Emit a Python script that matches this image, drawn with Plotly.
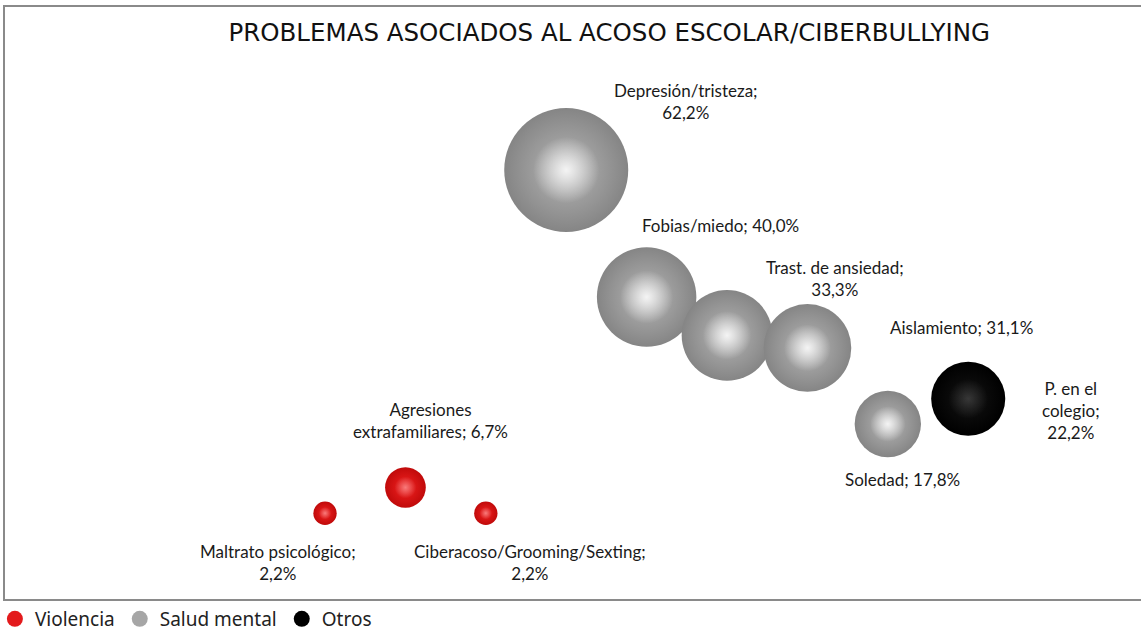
import plotly.graph_objects as go

# bubble data (x = order of appearance, y and size = % of cases)
names = ["Maltrato psicológico", "Agresiones<br>extrafamiliares", "Ciberacoso/Grooming/Sexting",
         "Depresión/tristeza", "Fobias/miedo", "Trast. de ansiedad", "Aislamiento",
         "Soledad", "P. en el<br>colegio"]
values = [2.2, 6.7, 2.2, 62.2, 40.0, 33.3, 31.1, 17.8, 22.2]
groups = ["Violencia", "Violencia", "Violencia", "Salud mental", "Salud mental",
          "Salud mental", "Salud mental", "Salud mental", "Otros"]
group_names = ["Violencia", "Salud mental", "Otros"]
x_pos = list(range(1, len(names) + 1))

# styling: (edge, body, highlight, legend colour)
colors = {"Violencia": ("#c00a0a", "#f42222", "rgba(255,255,255,0.4)", "#e31a1c"),
          "Salud mental": ("#858585", "#b6b6b6", "rgba(255,255,255,0.85)", "#a6a6a6"),
          "Otros": ("#000000", "#141414", "rgba(255,255,255,0.15)", "#000000")}
# separator between name and value, and label offset (px) from bubble centre
seps = ["<br>", " ", "<br>", "<br>", " ", "<br>", " ", " ", "<br>"]
offsets = [(-47, -49), (25, 67), (44, -49), (120, 69), (74, 71),
           (108, 57), (154, 20), (15, -56), (103, -12)]

max_px = 124
sizeref = 2.0 * max(values) / max_px ** 2

fig = go.Figure()
for g in group_names:
    idx = [i for i, gg in enumerate(groups) if gg == g]
    edge, body, hl, flat = colors[g]
    xs = [x_pos[i] for i in idx]
    ys = [values[i] for i in idx]
    fig.add_trace(go.Scatter(
        x=xs, y=ys, mode="markers", showlegend=False, hoverinfo="skip",
        marker=dict(size=ys, sizemode="area", sizeref=sizeref, opacity=1,
                    color=edge, line=dict(width=0),
                    gradient=dict(type="radial", color=body))))
    # soft highlight on top of the sphere
    fig.add_trace(go.Scatter(
        x=xs, y=ys, mode="markers", showlegend=False, hoverinfo="skip",
        marker=dict(size=ys, sizemode="area", sizeref=sizeref * 3.5, opacity=1,
                    color="rgba(255,255,255,0)", line=dict(width=0),
                    gradient=dict(type="radial", color=hl))))
    # flat legend entry
    fig.add_trace(go.Scatter(
        x=[None], y=[None], mode="markers", name=g,
        marker=dict(size=20, color=flat, opacity=1, line=dict(width=0))))

for i, n in enumerate(names):
    txt = n + ";" + seps[i] + ("%.1f%%" % values[i]).replace(".", ",")
    fig.add_annotation(x=x_pos[i], y=values[i], text=txt, showarrow=False,
                       xshift=offsets[i][0], yshift=offsets[i][1],
                       font=dict(family="Lato, Liberation Sans", size=17, color="#1a1a1a"))

# frame around the chart area
fig.add_shape(type="rect", xref="paper", yref="paper", x0=0, x1=1.02, y0=0, y1=1,
              line=dict(color="#8a8a8a", width=2), layer="below")

fig.update_layout(
    width=1141, height=632,
    margin=dict(l=4, r=0, t=6, b=32, autoexpand=False),
    paper_bgcolor="white", plot_bgcolor="white",
    title=dict(text="PROBLEMAS ASOCIADOS AL ACOSO ESCOLAR/CIBERBULLYING",
               x=0.534, xanchor="center", y=0.948, yanchor="middle",
               font=dict(family="Liberation Sans Narrow, DejaVu Sans", size=24.5, color="#111111")),
    xaxis=dict(range=[-2.993, 11.149], visible=False),
    yaxis=dict(range=[-12.97, 90.87], visible=False),
    legend=dict(orientation="h", x=-0.008, xanchor="left", y=0.0, yanchor="top",
                bgcolor="rgba(0,0,0,0)",
                font=dict(family="Noto Sans", size=19, color="#222222"),
                itemsizing="trace", tracegroupgap=0, itemwidth=30),
)

fig.write_html("out.html", config={"displayModeBar": False},
               post_script="document.body.style.margin='0px';")
